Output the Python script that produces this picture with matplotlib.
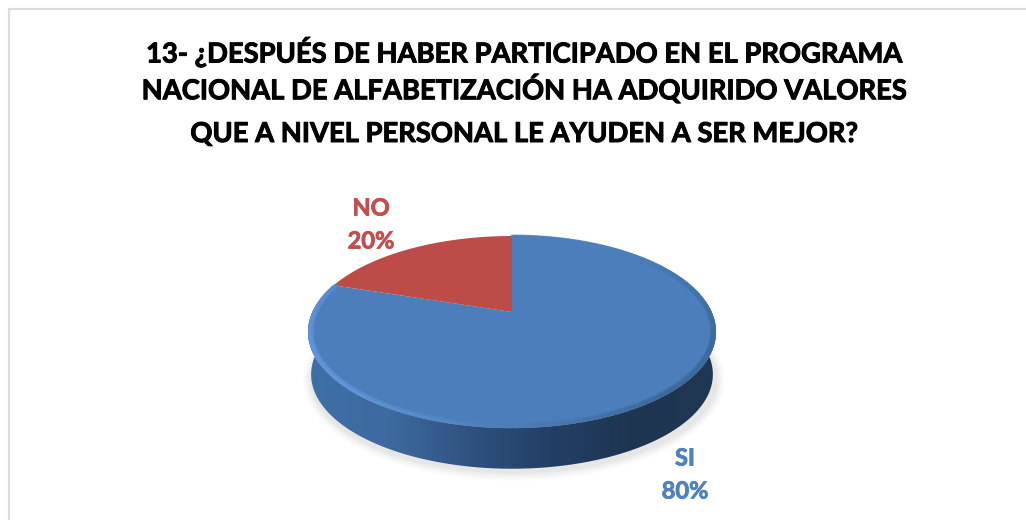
import numpy as np
import matplotlib
matplotlib.use("Agg")
import matplotlib.pyplot as plt
import matplotlib.patheffects as pe
from matplotlib.collections import LineCollection
from matplotlib.colors import LinearSegmentedColormap, to_rgb
from matplotlib.patches import Ellipse, Polygon

title_lines = [
    "13- ¿DESPUÉS DE HABER PARTICIPADO EN EL PROGRAMA",
    "NACIONAL DE ALFABETIZACIÓN HA ADQUIRIDO VALORES",
    "QUE A NIVEL PERSONAL LE AYUDEN A SER MEJOR?",
]
categories = ["SI", "NO"]
values = [80, 20]

FACE_BLUE = "#4b7ebb"
FACE_RED = "#bd4c49"
LABEL_BLUE = "#4f81bd"
LABEL_RED = "#c0504d"

plt.rcParams["font.family"] = ["Lato", "DejaVu Sans"]


def project(t, scale=1.0, drop=0.0):
    # t is clockwise from 12 o'clock, tilted disc seen in perspective
    u, v = np.sin(t) * scale, np.cos(t) * scale
    k = 0.208
    x = 512 + 199.6 * u / (1 + k * v)
    y = 312 - 91.8 * v / (1 + k * v) + drop
    return x, y


def heavy(col, width):
    # Lato bold is a little thin next to the reference, thicken it
    return [pe.withStroke(linewidth=width, foreground=col)]


fig = plt.figure(figsize=(10.26, 5.2), dpi=100)
ax = fig.add_axes([0, 0, 1, 1])
ax.set_xlim(0, 1026)
ax.set_ylim(520, 0)
ax.axis("off")

# frame, runs off the right and bottom edge
ax.plot([9, 9, 1026], [520, 9, 9], color="#dcdcdc", lw=1.6, solid_joinstyle="miter")

# soft shadow under the disc
for grow, alpha in zip(range(18, 0, -3), [0.01, 0.014, 0.018, 0.022, 0.028, 0.034]):
    ax.add_patch(Ellipse((514, 380), 404 + grow, 184 + grow, color="#505050", alpha=alpha, lw=0, zorder=1))

# side wall with left to right gradient
t_low = np.linspace(np.pi / 2 - 0.2, 3 * np.pi / 2 + 0.2, 361)
xb, yb = project(t_low, scale=0.985, drop=43)
xt, yt = project(t_low[::-1])
wall = Polygon(np.r_[np.c_[xb, yb], np.c_[xt, yt]], closed=True, fc="none", ec="none", transform=ax.transData)
ax.add_patch(wall)
wall_cmap = LinearSegmentedColormap.from_list(
    "wall", ["#3f6fa8", "#3d6a9f", "#30517f", "#223f63", "#1e3552", "#1f3753"]
)
grad = ax.imshow(
    np.linspace(0, 1, 256)[None, :], extent=(308, 716, 480, 300), cmap=wall_cmap,
    aspect="auto", zorder=2, interpolation="bilinear",
)
grad.set_clip_path(wall)
ax.set_xlim(0, 1026)
ax.set_ylim(520, 0)

# top face, one slice per value, clockwise from 12 o'clock
edges = np.deg2rad(np.r_[0, np.cumsum(values)] / sum(values) * 360)
colors = [FACE_BLUE, FACE_RED]
for i in range(len(values)):
    t = np.linspace(edges[i], edges[i + 1], 300)
    x, y = project(t)
    x0, y0 = project(np.array([0.0]), scale=0.0)
    ax.fill(np.r_[x0, x], np.r_[y0, y], color=colors[i], lw=0, zorder=3)

# bevel on the rim of the blue slice: light lower left, slightly dark on the right
t = np.linspace(edges[0], edges[1], 500)
mid = (t[:-1] + t[1:]) / 2
light = np.clip(-np.sin(mid) * 0.7 - np.cos(mid) * 0.55, 0, 1)
dark = np.clip(np.sin(mid) * 0.5 - np.cos(mid) * 0.5, 0, 1)
base = np.array(to_rgb(FACE_BLUE))
rim = base + light[:, None] * (np.array(to_rgb("#6499dc")) - base) + dark[:, None] * (np.array(to_rgb("#35608f")) - base)
rim = np.clip(rim, 0, 1)
for scale, lw, alpha in [(0.985, 3.6, 0.3), (0.992, 2.2, 0.7)]:
    x, y = project(t, scale=scale)
    pts = np.c_[x, y]
    segs = np.stack([pts[:-1], pts[1:]], axis=1)
    ax.add_collection(LineCollection(segs, colors=rim, linewidths=lw, alpha=alpha, zorder=4, capstyle="round"))

# title
for line, yc in zip(title_lines, [52, 89, 134]):
    ax.text(524.5, yc, line, ha="center", va="center", fontsize=19.7, fontweight="bold", color="black",
            path_effects=heavy("black", 0.7))

# data labels
total = sum(values)
label_pos = {"SI": (685, 458, 491, LABEL_BLUE), "NO": (371, 208, 241, LABEL_RED)}
for name, val in zip(categories, values):
    xl, y1, y2, col = label_pos[name]
    ax.text(xl, y1, name, ha="center", va="center", fontsize=17, fontweight="bold", color=col,
            path_effects=heavy(col, 0.6))
    ax.text(xl, y2, f"{round(100 * val / total)}%", ha="center", va="center", fontsize=17, fontweight="bold", color=col,
            path_effects=heavy(col, 0.6))

fig.savefig("out.png", dpi=100)
